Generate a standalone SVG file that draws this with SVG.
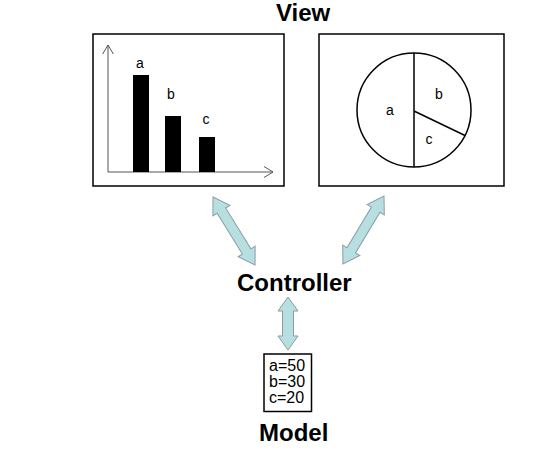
<svg xmlns="http://www.w3.org/2000/svg" width="554" height="450" viewBox="0 0 554 450">
<style>
.title{font-family:"Liberation Sans",Arial,sans-serif;font-weight:bold;font-size:24px;fill:#000}
.lbl{font-family:"Liberation Sans",Arial,sans-serif;font-size:14px;fill:#000}
.val{font-family:"Liberation Sans",Arial,sans-serif;font-size:16px;fill:#000}
.frame{fill:#fff;stroke:#000;stroke-width:1.5}
.axis{fill:none;stroke:#555;stroke-width:1}
.dbl{fill:#b7dfe2;stroke:#8a9ea3;stroke-width:1}
.pie{fill:none;stroke:#000;stroke-width:1.5}
</style>
<rect width="554" height="450" fill="#fff"/>
<g id="view">
<text class="title" x="276" y="21">View</text>
<g id="bar-chart">
<rect class="frame" x="93" y="34" width="191" height="152"/>
<path class="axis" d="M108,172 V45 M102.7,54 L108,45 L113.3,54 M108,172 H273 M264,166.5 L273,172 L264,177.5"/>
<rect x="133" y="75" width="16" height="97" fill="#000"/>
<rect x="165" y="116" width="16" height="56" fill="#000"/>
<rect x="199" y="137" width="16" height="35" fill="#000"/>
<text class="lbl" x="140" y="68" text-anchor="middle">a</text>
<text class="lbl" x="171" y="99" text-anchor="middle">b</text>
<text class="lbl" x="206" y="124" text-anchor="middle">c</text>
</g>
<g id="pie-chart">
<rect class="frame" x="319" y="34" width="185" height="152"/>
<circle class="pie" cx="414" cy="110" r="57"/>
<path class="pie" d="M414,53 V167 M414,111 L465,135.5"/>
<text class="lbl" x="390" y="115" text-anchor="middle">a</text>
<text class="lbl" x="439" y="99" text-anchor="middle">b</text>
<text class="lbl" x="429" y="144" text-anchor="middle">c</text>
</g>
</g>
<g id="controller">
<text class="title" x="237" y="291">Controller</text>
</g>
<g id="model">
<rect x="264" y="354" width="47.5" height="57.5" fill="#fff" stroke="#000" stroke-width="1.5"/>
<text class="val" x="269" y="371">a=50</text>
<text class="val" x="269" y="387">b=30</text>
<text class="val" x="269" y="403">c=20</text>
<text class="title" x="259" y="441">Model</text>
</g>
<g id="connectors">
<path class="dbl" transform="translate(213,197) rotate(58.3)" d="M0,0 L16,-10 L16,-5 L64,-5 L64,-10 L80,0 L64,10 L64,5 L16,5 L16,10 Z"/>
<path class="dbl" transform="translate(384,196) rotate(121.1)" d="M0,0 L16,-10 L16,-5 L63.4,-5 L63.4,-10 L79.4,0 L63.4,10 L63.4,5 L16,5 L16,10 Z"/>
<path class="dbl" transform="translate(288,297) rotate(90)" d="M0,0 L14,-10 L14,-5.5 L39,-5.5 L39,-10 L53,0 L39,10 L39,5.5 L14,5.5 L14,10 Z"/>
</g>
</svg>
